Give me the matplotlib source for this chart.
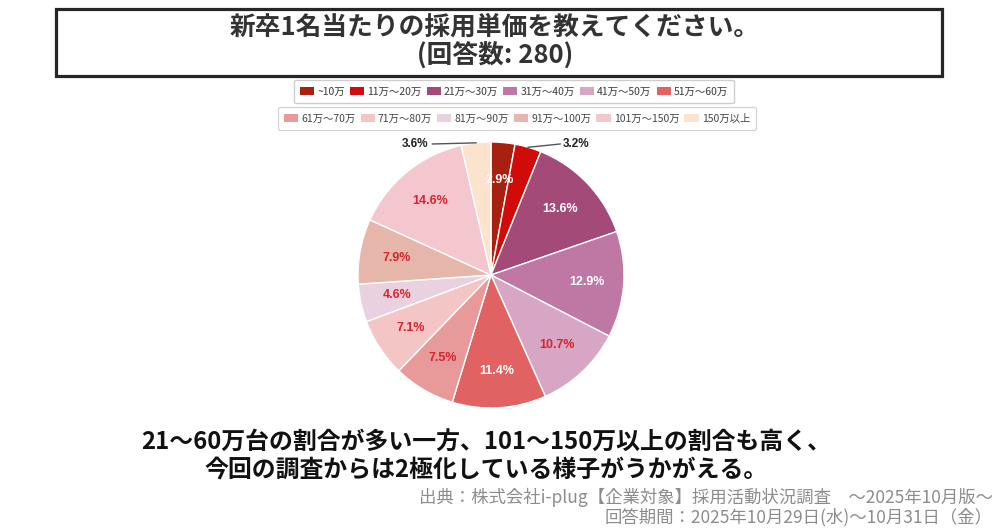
import numpy as np
import matplotlib
matplotlib.use("Agg")
import matplotlib.pyplot as plt
from matplotlib.patches import Rectangle

JP = ["Noto Sans CJK JP", "DejaVu Sans"]
plt.rcParams["font.family"] = JP

# data
categories = ["~10万", "11万〜20万", "21万〜30万", "31万〜40万", "41万〜50万", "51万〜60万",
              "61万〜70万", "71万〜80万", "81万〜90万", "91万〜100万", "101万〜150万", "150万以上"]
shares = [2.9, 3.2, 13.6, 12.9, 10.7, 11.4, 7.5, 7.1, 4.6, 7.9, 14.6, 3.6]
colors = ["#a8200f", "#d10a0a", "#a34a78", "#bf77a3", "#d6a6c4", "#e06262",
          "#e89a9a", "#f3c5c5", "#e9d1df", "#e6b6aa", "#f3c7cd", "#fbe3cd"]
label_colors = ["white", None, "white", "white", "#d7242e", "white",
                "#d7242e", "#d7242e", "#d7242e", "#d7242e", "#d7242e", None]
outside = {1: (0.64, 0.985), 11: (-0.57, 0.985)}  # small slices labelled outside

W, H = 1000, 528
fig = plt.figure(figsize=(W / 100, H / 100), dpi=100)


def fx(px):
    return px / W


def fy(py):
    return 1 - py / H


# title box
fig.patches.append(Rectangle((fx(56), fy(76)), fx(942) - fx(56), fy(9) - fy(76),
                             transform=fig.transFigure, fill=False, lw=2.3, ec="#262626"))
fig.text(fx(495), fy(27), "新卒1名当たりの採用単価を教えてください。", ha="center", va="center",
         fontsize=18.5, fontweight="bold", color="#333333")
fig.text(fx(495), fy(56), "(回答数: 280)", ha="center", va="center",
         fontsize=18.5, fontweight="bold", color="#333333")

# pie
cx, cy, r = 491, 275, 133
ax = fig.add_axes([fx(cx - r), fy(cy + r), 2 * r / W, 2 * r / H])
wedges, _ = ax.pie(shares, colors=colors, startangle=90, counterclock=False,
                   wedgeprops=dict(edgecolor="white", linewidth=1.0))
ax.set_xlim(-1, 1); ax.set_ylim(-1, 1)
ax.axis("off")

for i, (w, v) in enumerate(zip(wedges, shares)):
    ang = np.deg2rad((w.theta1 + w.theta2) / 2)
    txt = f"{v:.1f}%"
    if i in outside:
        tx, ty = outside[i]
        ex, ey = np.cos(ang), np.sin(ang)
        lx = tx - 0.12 if tx > 0 else tx + 0.13
        ax.plot([ex, lx], [ey, ty], color="#555555", lw=1.0, clip_on=False)
        ax.text(tx, ty, txt, ha="center", va="center", fontsize=8.5, fontweight="bold",
                color="#222222", family="Liberation Sans")
    else:
        ax.text(0.72 * np.cos(ang), 0.72 * np.sin(ang), txt, ha="center", va="center",
                fontsize=9, fontweight="bold", color=label_colors[i], family="Liberation Sans")

# legends, two rows like the original
for row, (y, x0) in enumerate([(91.5, 514), (118.5, 517)]):
    idx = range(row * 6, row * 6 + 6)
    leg = fig.legend([wedges[i] for i in idx], [categories[i] for i in idx],
                     loc="center", bbox_to_anchor=(fx(x0), fy(y)), ncol=6,
                     fontsize=7.5, handlelength=1.35, handleheight=0.75, handletextpad=0.3,
                     columnspacing=0.5, borderpad=0.6, frameon=True, fancybox=True,
                     edgecolor="#c8c8c8", labelcolor="#444444")
    for h in leg.legend_handles:
        h.set_edgecolor("none")
    leg.get_frame().set_linewidth(0.9)
    if row == 0:
        fig.add_artist(leg)

# summary text
fig.text(fx(486), fy(443), "21〜60万台の割合が多い一方、101〜150万以上の割合も高く、",
         ha="center", va="center", fontsize=17.2, fontweight="bold", color="#111111")
fig.text(fx(486), fy(470), "今回の調査からは2極化している様子がうかがえる。",
         ha="center", va="center", fontsize=17.2, fontweight="bold", color="#111111")

# source
fig.text(fx(993), fy(497), "出典：株式会社i-plug【企業対象】採用活動状況調査　～2025年10月版～",
         ha="right", va="center", fontsize=12.5, color="#8c8c8c")
fig.text(fx(993), fy(517), "回答期間：2025年10月29日(水)〜10月31日（金）",
         ha="right", va="center", fontsize=12.5, color="#8c8c8c")

fig.savefig("out.png", dpi=100, facecolor="white")
